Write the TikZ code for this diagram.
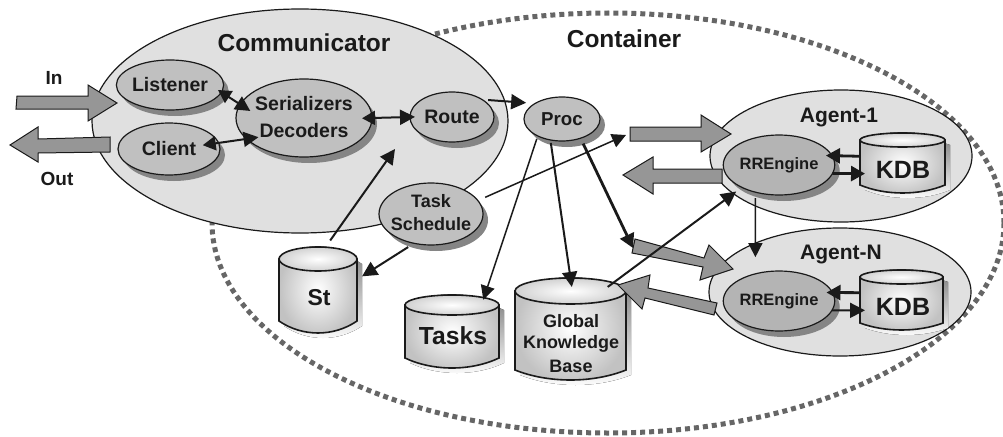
\documentclass[tikz,border=0pt]{standalone}
\usepackage{fontspec}
\setmainfont{Liberation Sans}
\usetikzlibrary{shapes.geometric,arrows.meta}
\definecolor{ink}{HTML}{1A1A1A}
\definecolor{pale}{HTML}{E0E0E0}
\definecolor{midfill}{HTML}{C0C0C0}
\definecolor{rrfill}{HTML}{B4B4B4}
\definecolor{shade}{HTML}{858585}
\definecolor{blockfill}{HTML}{969696}
\definecolor{dots}{HTML}{666666}
\newcommand\sz[1]{\fontsize{#1}{#1}\selectfont\bfseries}
\tikzset{
  x=1pt,y=-1pt,
  every node/.style={text=ink,align=center,inner sep=0pt},
  oval/.style={shape=ellipse,draw=ink,line width=1.2pt,inner sep=0pt,outer sep=0pt},
  bigoval/.style={oval,fill=pale},
  smalloval/.style={oval,fill=midfill,preaction={draw=none,fill=shade,transform canvas={shift={(5pt,-6pt)}}}},
  rroval/.style={smalloval,fill=rrfill},
  txt/.style={font=\sz{#1}},
  blockarrow/.style={draw=ink,line width=1pt,fill=blockfill},
  thinlink/.style={draw=ink,line width=1.5pt,-{Triangle[length=14pt,width=14pt]}},
  midlink/.style={draw=ink,line width=2pt,-{Triangle[length=15pt,width=15pt]}},
  heavylink/.style={draw=ink,line width=2.8pt,-{Triangle[length=14pt,width=15pt]}},
  twoway/.style={draw=ink,line width=2pt,{Triangle[length=13pt,width=14pt]}-{Triangle[length=15pt,width=15pt]}},
}
% #1 name, #2 left, #3 right, #4 top, #5 side end, #6 bottom, #7 top radius
\newcommand\dbcyl[7]{%
  \pgfmathsetmacro\cx{(#2+#3)/2}%
  \pgfmathsetmacro\cy{(#4+#6)/2}%
  \pgfmathsetmacro\rx{(#3-#2)/2}%
  \pgfmathsetmacro\hh{#6-#4}%
  \pgfmathsetmacro\ctrl{#5+(#6-#5)*4/3}%
  \pgfmathsetmacro\tc{#4+#7}%
  \pgfmathsetmacro\ax{#2+0.3*(#3-#2)}%
  \pgfmathsetmacro\bx{#3-0.3*(#3-#2)}%
  \pgfmathsetmacro\up{#4-#7/3}%
  \fill[shade,shift={(5,5)}] (#2,\tc) -- (#2,#5) .. controls (\ax,\ctrl) and (\bx,\ctrl) .. (#3,#5) -- (#3,\tc) .. controls (\bx,\up) and (\ax,\up) .. cycle;
  \path[draw=ink,line width=1.6pt,inner color=white,outer color=black!24] (#2,\tc) -- (#2,#5) .. controls (\ax,\ctrl) and (\bx,\ctrl) .. (#3,#5) -- (#3,\tc) .. controls (\bx,\up) and (\ax,\up) .. cycle;
  \path[draw=ink,line width=1.6pt,inner color=white,outer color=black!18] (\cx,\tc) ellipse [x radius=\rx,y radius=#7];
  \node[minimum width=#3pt-#2pt,minimum height=\hh pt,outer sep=0pt] (#1) at (\cx,\cy) {};
}
\begin{document}
\begin{tikzpicture}
\useasboundingbox (0,0) rectangle (1003,436);
% container and communicator
\node[shape=ellipse,draw=dots,line width=5pt,dash pattern=on 5pt off 4pt,minimum width=792pt,minimum height=420pt] (container) at (608,223) {};
\node[bigoval,minimum width=416pt,minimum height=224pt] (comm) at (300,121) {};
\node[txt=24.5] (commlabel) at (304,43) {Communicator};
\node[txt=24.5] (contlabel) at (624,39) {Container};
\node[txt=19] (inlabel) at (54,78) {In};
\node[txt=19] (outlabel) at (57,179) {Out};
% ovals
\node[smalloval,minimum width=100pt,minimum height=50pt,txt=19.5] (listener) at (170,85) {Listener};
\node[smalloval,minimum width=102pt,minimum height=52pt,txt=19.5] (client) at (169,149) {Client};
\node[smalloval,minimum width=136pt,minimum height=78pt,txt=19.5] (ser) at (304,118) {};
\node[txt=19.5] (serlabel) at (304,104) {Serializers};
\node[txt=19.5] (declabel) at (304,131) {Decoders};
\node[smalloval,minimum width=84pt,minimum height=50pt,txt=19.5] (route) at (452,117) {Route};
\node[smalloval,minimum width=104pt,minimum height=62pt] (task) at (431,214) {};
\node[txt=18] (tasklabel1) at (431,201) {Task};
\node[txt=18] (tasklabel2) at (431,224) {Schedule};
\node[smalloval,minimum width=76pt,minimum height=44pt,txt=18.7] (proc) at (562,119) {Proc};
% agents
\node[bigoval,minimum width=262pt,minimum height=132pt] (a1) at (841,156) {};
\node[txt=21] (a1label) at (839,118) {Agent-1};
\node[rroval,minimum width=102pt,minimum height=60pt,txt=16.5] (rre1) at (779,165) {RREngine};
\dbcyl{kdb1}{860}{945}{133}{185}{193}{7}
\node[txt=25] (kdb1label) at (903,170) {KDB};
\node[bigoval,minimum width=262pt,minimum height=128pt] (an) at (840,292) {};
\node[txt=21] (anlabel) at (841,254) {Agent-N};
\node[rroval,minimum width=102pt,minimum height=60pt,txt=16.5] (rren) at (779,301) {RREngine};
\dbcyl{kdbn}{860}{943}{270}{323}{330}{7}
\node[txt=25] (kdbnlabel) at (903,307) {KDB};
% stores
\dbcyl{st}{279}{357}{247}{321}{333}{12}
\node[txt=23] (stlabel) at (319,298) {St};
\dbcyl{tasks}{405}{499}{295}{358}{368}{10}
\node[txt=24.7] (taskslabel) at (453,336) {Tasks};
\dbcyl{gkb}{515}{626}{278}{370}{380}{13}
\node[txt=18] (gkb1) at (571,321) {Global};
\node[txt=18] (gkb2) at (571,344) {Knowledge};
\node[txt=18] (gkb3) at (571,366) {Base};
% block arrows
\draw[blockarrow] (17,96) -- (88,96) -- (88,85) -- (117,103) -- (88,121) -- (88,109) -- (16,109) -- cycle;
\draw[blockarrow] (110,137) -- (38,139) -- (38,127) -- (10,145) -- (38,162) -- (38,153) -- (110,152) -- cycle;
\draw[blockarrow] (630,127) -- (701,127) -- (701,115) -- (731,134) -- (701,152) -- (701,141) -- (630,141) -- cycle;
\draw[blockarrow] (722,169) -- (653,169) -- (653,157) -- (623,175) -- (653,194) -- (653,183) -- (722,183) -- cycle;
\draw[blockarrow] (635,239) -- (704,258) -- (709,245) -- (733,269) -- (700,280) -- (703,267) -- (632,253) -- cycle;
\draw[blockarrow] (717,303) -- (648,288) -- (650,275) -- (618,285) -- (642,309) -- (645,298) -- (714,315) -- cycle;
% free ends
\coordinate (routefree) at (395,149);
\coordinate (a1inend) at (626,135);
\coordinate (aninend) at (633,248);
% connectors
\draw[twoway,shorten <=-4pt,shorten >=-12pt] (listener.-8) -- (ser.168);
\draw[twoway,shorten <=-16pt,shorten >=-12pt] (client.7) -- (ser.200);
\draw[twoway,shorten <=-10pt,shorten >=-5pt] (ser.east) -- (route.west);
\draw[midlink,shorten <=8pt] (st.80) -- (routefree);
\draw[midlink,shorten <=7pt,shorten >=6pt] (task.240) -- (st.15);
\draw[midlink,shorten <=6pt,shorten >=9pt] (route.30) -- (proc.150);
\draw[thinlink,shorten <=8pt] (task.16) -- (a1inend);
\draw[thinlink,shorten <=3pt,shorten >=-5pt] (proc.215) -- (tasks.48);
\draw[midlink,shorten <=3pt,shorten >=-9pt] (proc.241) -- (gkb.north);
\draw[heavylink,shorten <=6pt] (proc.-46) -- (aninend);
\draw[midlink,shorten <=-15pt,shorten >=7pt] (gkb.46) -- (rre1.211);
\draw[thinlink,shorten <=6pt,shorten >=-14pt] (rre1.229) -- (an.150);
\draw[heavylink,shorten >=-6pt] (kdb1.171) -- (rre1.10);
\draw[heavylink,shorten >=-5pt] (rre1.-9) -- (kdb1.194);
\draw[heavylink,shorten >=-6pt] (kdbn.170) -- (rren.9);
\draw[midlink,shorten >=-5pt] (rren.-10) -- (kdbn.194);
\end{tikzpicture}
\end{document}
